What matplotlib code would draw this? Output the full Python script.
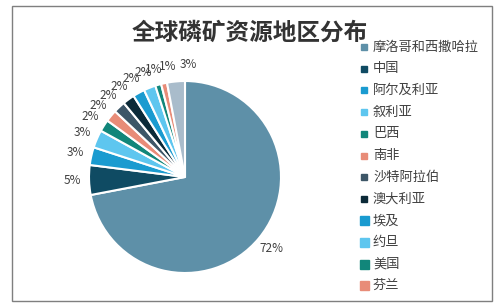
import numpy as np
import matplotlib.pyplot as plt
from matplotlib.patches import Rectangle

plt.rcParams['font.family'] = ['Noto Sans CJK SC', 'DejaVu Sans']

# 数据
regions = ['摩洛哥和西撒哈拉', '中国', '阿尔及利亚', '叙利亚', '巴西', '南非',
           '沙特阿拉伯', '澳大利亚', '埃及', '约旦', '美国', '芬兰', '其他']
shares = [72, 5, 3, 3, 2, 2, 2, 2, 2, 2, 1, 1, 3]
colors = ['#5e90a8', '#0f4b63', '#1a9bd0', '#5ec6ef', '#11867a', '#e88c78',
          '#3d5667', '#0b2a38', '#1a9bd0', '#5ec6ef', '#11867a', '#e88c78', '#a9bccb']
legend_count = 12  # 图例只显示前12项

fig = plt.figure(figsize=(5.04, 3.07), dpi=100)
W, H = 504, 307

# 外框
fig.add_artist(Rectangle((12 / W, 1 - 301 / H), 480 / W, 295 / H, transform=fig.transFigure,
                         fill=False, edgecolor='#7f7f7f', linewidth=1))

# 饼图
cx, cy, r = 185, 177, 96
ax = fig.add_axes([(cx - r) / W, (H - cy - r) / H, 2 * r / W, 2 * r / H])
wedges, texts = ax.pie(shares, colors=colors, startangle=90, counterclock=False,
                       wedgeprops=dict(edgecolor='white', linewidth=1.5))

# 百分比标签（顶部几个稍微错开，避免重叠）
shift = {11: -3.5, 12: -7}
for i, (w, v) in enumerate(zip(wedges, shares)):
    ang = np.deg2rad((w.theta1 + w.theta2) / 2 + shift.get(i, 0))
    d = 1.17
    ax.text(d * np.cos(ang), d * np.sin(ang), f'{v}%', ha='center', va='center',
            fontsize=8.5, color='#404040')

ax.set_xlim(-1, 1)
ax.set_ylim(-1, 1)
ax.set_aspect('equal')
ax.axis('off')

# 标题
fig.text(250 / W, 1 - 33 / H, '全球磷矿资源地区分布', ha='center', va='center',
         fontsize=17, fontweight='bold', color='#333333')

# 图例
y0, step = 47, 21.7
for i in range(legend_count):
    y = y0 + i * step
    s = 6 if i < 8 else 9
    fig.add_artist(Rectangle(((364 - s / 2) / W, 1 - (y + s / 2) / H), s / W, s / H,
                             transform=fig.transFigure, color=colors[i]))
    fig.text(373 / W, 1 - y / H, regions[i], ha='left', va='center',
             fontsize=9.5, color='#404040')

fig.savefig('out.png', dpi=100)
